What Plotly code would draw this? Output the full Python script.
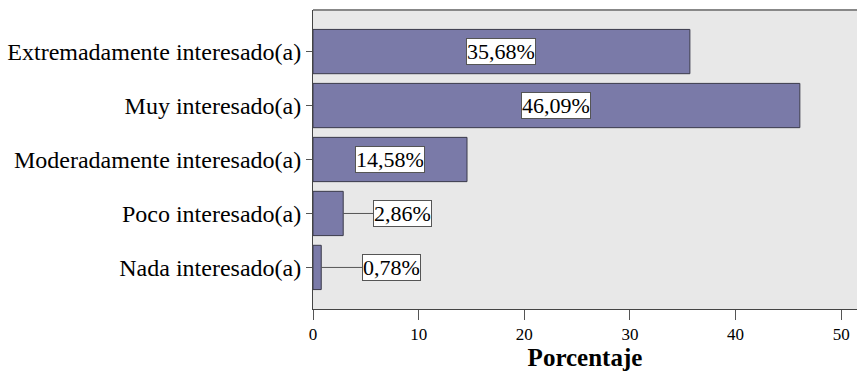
import plotly.graph_objects as go

categorias = ["Extremadamente interesado(a)", "Muy interesado(a)",
              "Moderadamente interesado(a)", "Poco interesado(a)", "Nada interesado(a)"]
porcentajes = [35.68, 46.09, 14.58, 2.86, 0.78]
etiquetas = ["35,68%", "46,09%", "14,58%", "2,86%", "0,78%"]
# posición horizontal de la etiqueta externa para barras cortas
pos_externa = {"Poco interesado(a)": 8.45, "Nada interesado(a)": 7.45}

fuente = "'Liberation Serif', 'DejaVu Serif', 'Times New Roman', serif"

fig = go.Figure()
fig.add_trace(go.Bar(
    x=porcentajes, y=categorias, orientation="h",
    marker=dict(color="#7a7aa8", line=dict(color="#3a3a4a", width=1)),
    width=0.82, hoverinfo="skip",
))

anots = []
for cat, val, txt in zip(categorias, porcentajes, etiquetas):
    base = dict(text=txt, y=cat, yref="y", xref="x", bgcolor="white",
                bordercolor="#555555", borderwidth=1, borderpad=0,
                font=dict(family=fuente, size=22, color="black"))
    if cat in pos_externa:
        anots.append(dict(base, x=val, ax=pos_externa[cat], ay=cat,
                          axref="x", ayref="y", showarrow=True,
                          arrowhead=0, arrowwidth=1, arrowcolor="#555555",
                          standoff=0, startstandoff=0))
    else:
        anots.append(dict(base, x=val / 2, showarrow=False))

fig.update_layout(
    width=857, height=376,
    margin=dict(l=313, r=0, t=10, b=67),
    paper_bgcolor="white", plot_bgcolor="#e8e8e8",
    showlegend=False, annotations=anots,
    xaxis=dict(range=[0, 51.5], tickvals=[0, 10, 20, 30, 40, 50],
               ticks="outside", ticklen=10, tickcolor="#555555",
               showgrid=False, zeroline=False, showline=True,
               linecolor="#444444", linewidth=1, mirror=False,
               tickfont=dict(family=fuente, size=17, color="black"),
               title=dict(text="<b>Porcentaje</b>", standoff=4,
                          font=dict(family=fuente, size=25, color="black"))),
    yaxis=dict(categoryorder="array", categoryarray=categorias,
               autorange=False, range=[4.77, -0.77],
               ticks="outside", ticklen=6, tickcolor="#555555",
               showgrid=False, zeroline=False, showline=True,
               linecolor="#444444", linewidth=1,
               tickfont=dict(family=fuente, size=24, color="black")),
    shapes=[dict(type="line", xref="paper", yref="paper", x0=0, x1=1,
                 y0=1, y1=1, line=dict(color="#888888", width=2))],
)

fig.write_html("out.html")
